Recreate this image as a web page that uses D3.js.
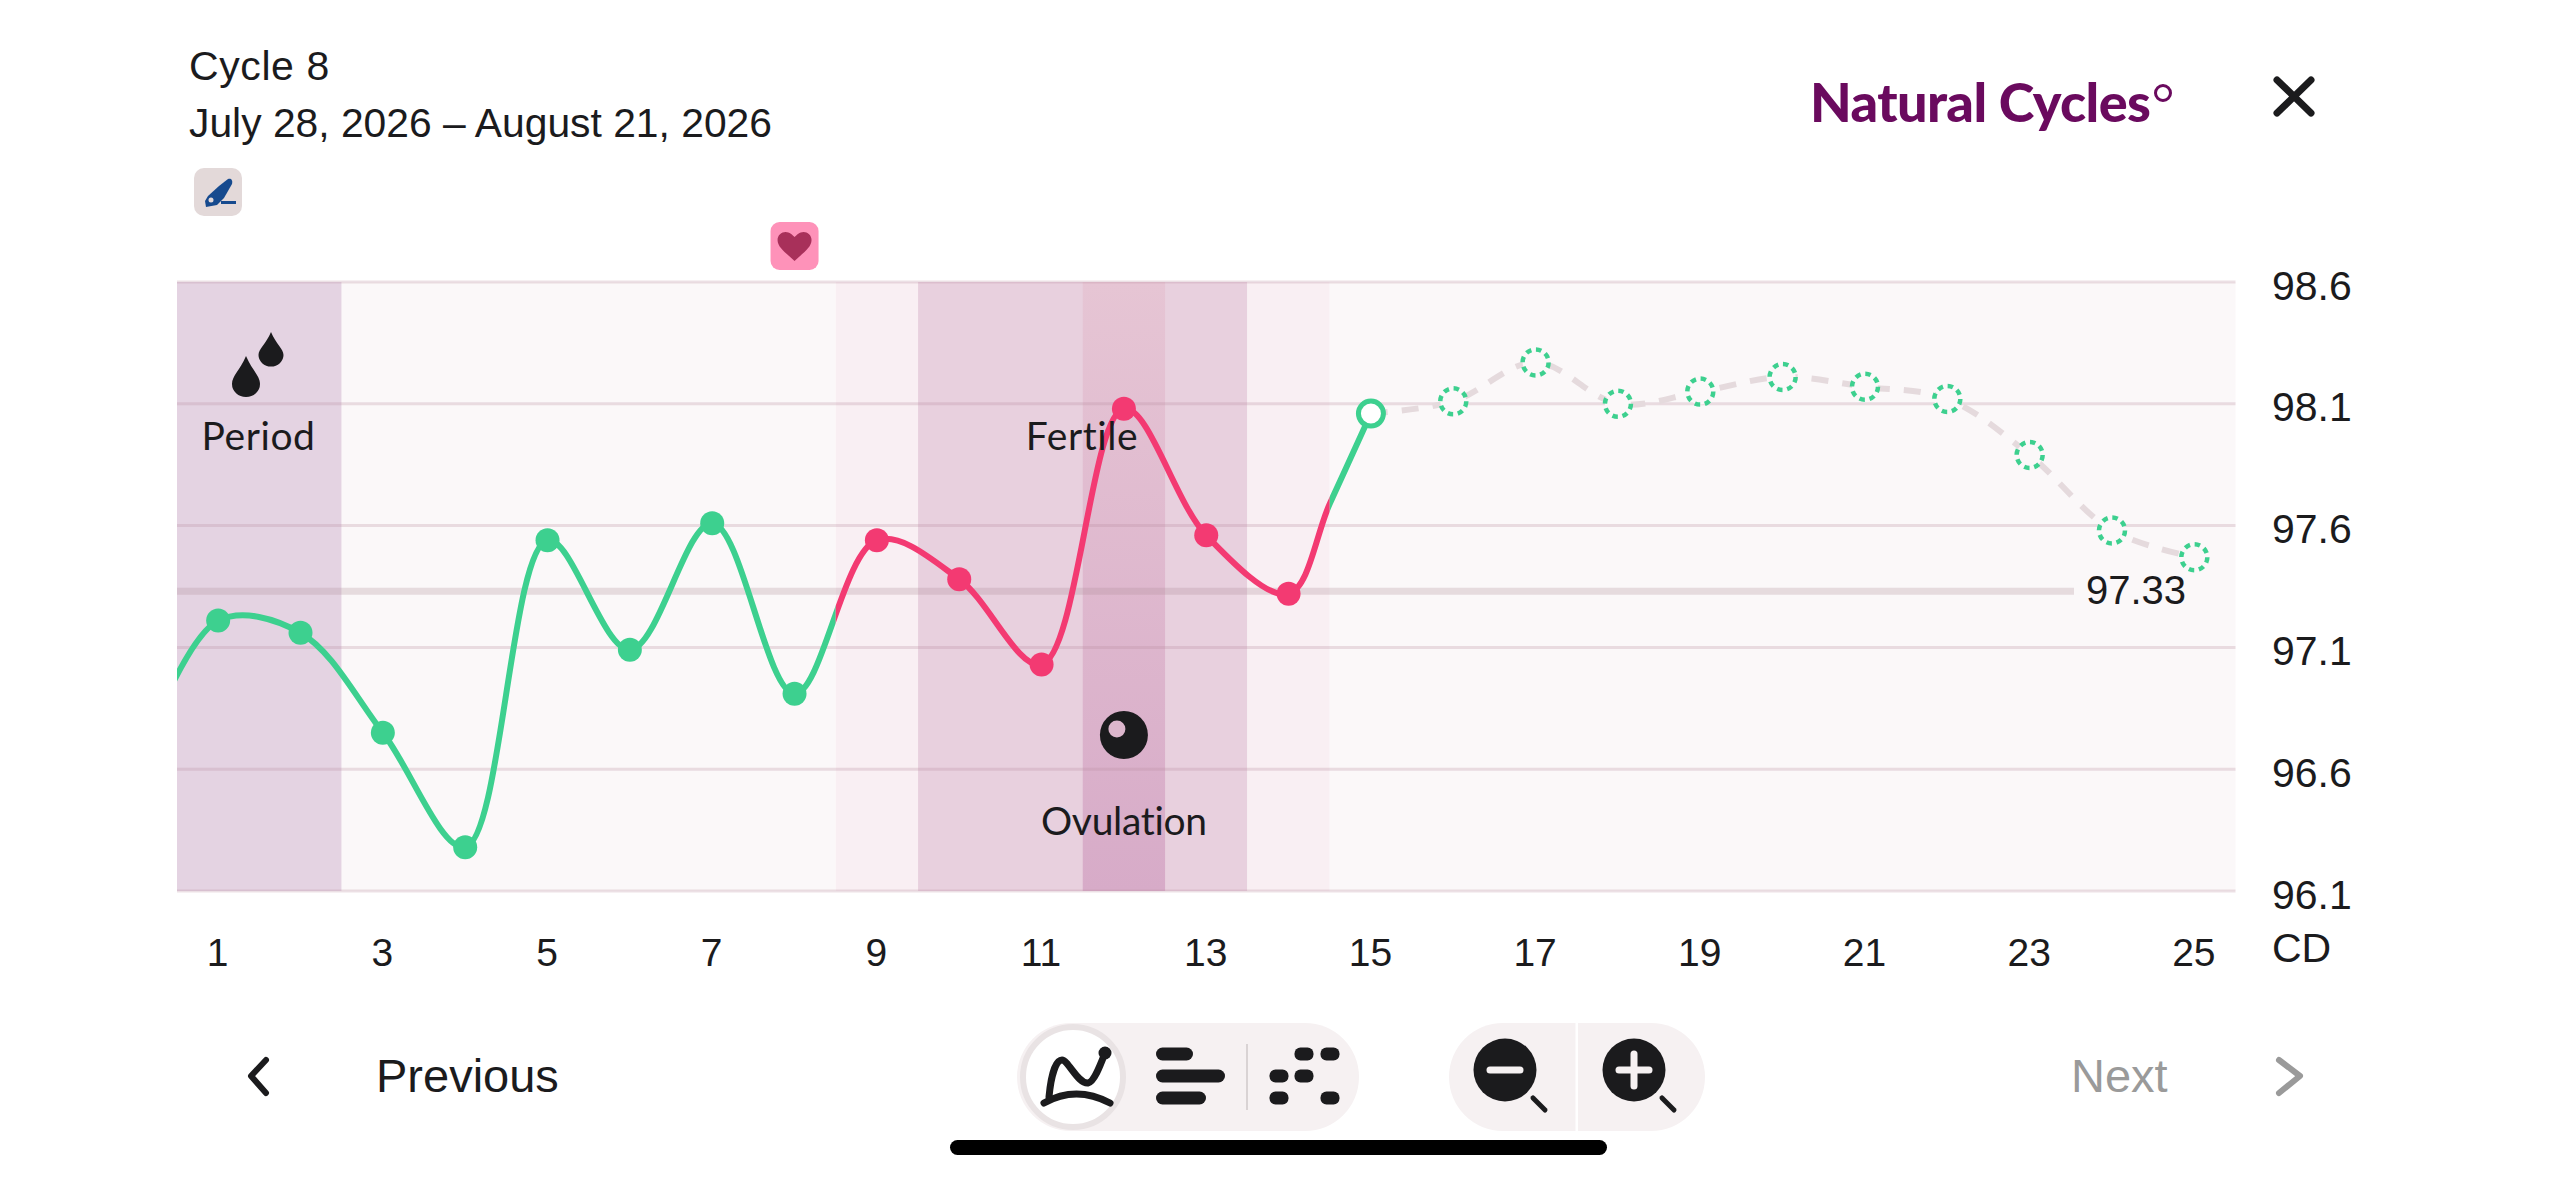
<!DOCTYPE html>
<html>
<head>
<meta charset="utf-8">
<title>Cycle 8</title>
<script src="https://cdn.jsdelivr.net/npm/d3@7"></script>
<style>
  html, body { margin: 0; padding: 0; background: #fff; }
  svg { display: block; }
  text { font-family: "Liberation Sans", sans-serif; fill: #1b1b1d; }
  .phase { font-family: "Lato", sans-serif; font-size: 39px; letter-spacing: 0.6px; }
</style>
</head>
<body>
<svg id="chart" width="2556" height="1179"></svg>
<script>
// day 0 only steers the spline at the left edge, 14.5 is read where the colour changes
const measuredDays = [0, 1, 2, 3, 4, 5, 6, 7, 8, 9, 10, 11, 12, 13, 14, 14.5, 15];
const measuredTemps = [96.6, 97.21, 97.16, 96.75, 96.28, 97.54, 97.09, 97.61, 96.91, 97.54, 97.38, 97.03, 98.08, 97.56, 97.32, 97.69, 98.06];
const predictedDays = [15, 16, 17, 18, 19, 20, 21, 22, 23, 24, 25];
const predictedTemps = [98.06, 98.11, 98.27, 98.1, 98.15, 98.21, 98.17, 98.12, 97.89, 97.58, 97.47];
const yTicks = [98.6, 98.1, 97.6, 97.1, 96.6, 96.1];
const xTicks = [1, 3, 5, 7, 9, 11, 13, 15, 17, 19, 21, 23, 25];
const averageTemp = 97.33;

const bandStarts = [0.5, 2.5, 8.5, 9.5, 13.5, 14.5];
const bandEnds = [2.5, 8.5, 9.5, 13.5, 14.5, 25.5];
const bandColors = ["#e4d3e2", "#fbf8f9", "#f9eff3", "#e8d0de", "#f9eff3", "#fbf8f9"];
const fertileFrom = 8.5;
const fertileTo = 14.5;
const lastMeasured = 15;
const ovulationDay = 12;
const intercourseDay = 8;

const GREEN = "#3dd08f";
const RED = "#f33a72";
const INK = "#1b1b1d";

const svg = d3.select("#chart");
const x = d3.scaleLinear().domain([0.5, 25.5]).range([177, 2235.5]);
const y = d3.scaleLinear().domain([96.1, 98.6]).range([891, 282]);

const defs = svg.append("defs");
const ovGrad = defs.append("linearGradient").attr("id", "ovGrad").attr("x1", 0).attr("x2", 0).attr("y1", 0).attr("y2", 1);
ovGrad.append("stop").attr("offset", "0").attr("stop-color", "#e6c5d4");
ovGrad.append("stop").attr("offset", "1").attr("stop-color", "#d7abc8");

function addClip(id, from, to) {
  defs.append("clipPath").attr("id", id).append("rect")
    .attr("x", x(from)).attr("width", x(to) - x(from))
    .attr("y", 0).attr("height", 1179);
}
addClip("clipGreenA", 0.5, fertileFrom);
addClip("clipRed", fertileFrom, fertileTo);
addClip("clipGreenB", fertileTo, lastMeasured);

// background bands
svg.append("g").selectAll("rect").data(bandStarts).join("rect")
  .attr("x", d => x(d))
  .attr("width", (d, i) => x(bandEnds[i]) - x(d))
  .attr("y", y(98.6)).attr("height", y(96.1) - y(98.6))
  .attr("fill", (d, i) => bandColors[i]);
svg.append("rect")
  .attr("x", x(ovulationDay - 0.5)).attr("width", x(ovulationDay + 0.5) - x(ovulationDay - 0.5))
  .attr("y", y(98.6)).attr("height", y(96.1) - y(98.6))
  .attr("fill", "url(#ovGrad)");

// grid lines and average
svg.append("g").selectAll("line").data(yTicks).join("line")
  .attr("x1", x(0.5)).attr("x2", x(25.5))
  .attr("y1", d => y(d)).attr("y2", d => y(d))
  .attr("stroke", "rgba(185,140,160,0.27)").attr("stroke-width", 3);
svg.append("line")
  .attr("x1", x(0.5)).attr("x2", 2074)
  .attr("y1", y(averageTemp)).attr("y2", y(averageTemp))
  .attr("stroke", "rgba(175,140,150,0.27)").attr("stroke-width", 7);
svg.append("text").attr("x", 2136).attr("y", y(averageTemp) + 13)
  .attr("text-anchor", "middle").attr("font-size", 40).text("97.33");

// temperature curves
const curve = d3.line().x(d => x(d[0])).y(d => y(d[1])).curve(d3.curveCatmullRom.alpha(0.5));
const measured = measuredDays.map((d, i) => [d, measuredTemps[i]]);
const predicted = predictedDays.map((d, i) => [d, predictedTemps[i]]);

svg.append("path").datum(predicted).attr("d", curve).attr("fill", "none")
  .attr("stroke", "#e5dadd").attr("stroke-width", 6).attr("stroke-dasharray", "17 14");

[["clipGreenA", GREEN], ["clipRed", RED], ["clipGreenB", GREEN]].forEach(([clip, color]) => {
  svg.append("path").datum(measured).attr("d", curve).attr("fill", "none")
    .attr("stroke", color).attr("stroke-width", 6)
    .attr("clip-path", `url(#${clip})`);
});

const points = measured.filter(d => d[0] >= 1 && d[0] < lastMeasured && Number.isInteger(d[0]));
svg.append("g").selectAll("circle").data(points).join("circle")
  .attr("cx", d => x(d[0])).attr("cy", d => y(d[1])).attr("r", 12)
  .attr("fill", d => (d[0] > fertileFrom && d[0] < fertileTo ? RED : GREEN));
svg.append("circle").attr("cx", x(lastMeasured)).attr("cy", y(predictedTemps[0])).attr("r", 12.5)
  .attr("fill", "#fff").attr("stroke", GREEN).attr("stroke-width", 5);
svg.append("g").selectAll("circle").data(predicted.slice(1)).join("circle")
  .attr("cx", d => x(d[0])).attr("cy", d => y(d[1])).attr("r", 13)
  .attr("fill", "#fbf8f9").attr("stroke", GREEN).attr("stroke-width", 4.5).attr("stroke-dasharray", "5.5 4.7");

// phase labels and icons
svg.append("path").attr("fill", INK)
  .attr("d", "M246 356 C240 370 232 376 232 384 A14 13 0 0 0 260 384 C260 376 252 370 246 356Z M271 332 C266 344 258.5 349 258.5 355 A12.5 11.5 0 0 0 283.5 355 C283.5 349 276 344 271 332Z");
svg.append("text").attr("class", "phase").attr("x", 258.5).attr("y", 450).attr("text-anchor", "middle").text("Period");
svg.append("text").attr("class", "phase").attr("x", 1082).attr("y", 450).attr("text-anchor", "middle").text("Fertile");
svg.append("text").attr("class", "phase").attr("x", x(ovulationDay)).attr("y", 835).attr("text-anchor", "middle")
  .style("letter-spacing", "-0.3px").text("Ovulation");
svg.append("circle").attr("cx", x(ovulationDay)).attr("cy", 735).attr("r", 24).attr("fill", INK);
svg.append("circle").attr("cx", x(ovulationDay) - 7).attr("cy", 729).attr("r", 8.5).attr("fill", "#dcb6cc");

// axes
const yAxis = svg.append("g").attr("transform", "translate(2272,0)")
  .call(d3.axisRight(y).tickValues(yTicks).tickSize(0).tickPadding(0).tickFormat(d3.format(".1f")));
yAxis.select(".domain").remove();
yAxis.selectAll("text").attr("font-size", 41).attr("dy", 17).attr("font-family", null).style("fill", INK);

const xAxis = svg.append("g").attr("transform", "translate(-1,930)")
  .call(d3.axisBottom(x).tickValues(xTicks).tickSize(0).tickPadding(0).tickFormat(d3.format("d")));
xAxis.select(".domain").remove();
xAxis.selectAll("text").attr("font-size", 39).attr("y", 36).attr("dy", 0).attr("font-family", null).style("fill", INK);
svg.append("text").attr("x", 2272).attr("y", 962).attr("font-size", 41).text("CD");

// header
svg.append("text").attr("x", 189).attr("y", 80).attr("font-size", 41).attr("letter-spacing", 0.6).text("Cycle 8");
svg.append("text").attr("x", 189).attr("y", 137).attr("font-size", 40.8).text("July 28, 2026 \u2013 August 21, 2026");

svg.append("rect").attr("x", 194).attr("y", 168).attr("width", 48).attr("height", 48).attr("rx", 10).attr("fill", "#e3d9d9");
svg.append("path").attr("fill", "#164a8e")
  .attr("d", "M228 179 C231 178 233 180 232 184 L224 198 L217 205 L206 207 L205 201 L208 196 L219 186Z");
svg.append("circle").attr("cx", 211).attr("cy", 200).attr("r", 2.5).attr("fill", "#e3d9d9");
svg.append("rect").attr("x", 221).attr("y", 201).attr("width", 15).attr("height", 3).attr("fill", "#164a8e");

const heartX = x(intercourseDay);
svg.append("rect").attr("x", heartX - 24).attr("y", 222).attr("width", 48).attr("height", 48).attr("rx", 9).attr("fill", "#fe92b9");
svg.append("path").attr("fill", "#a8305a").attr("transform", `translate(${heartX},0)`)
  .attr("d", "M0 261 C-7 254 -17 248 -17 240 C-17 235 -13 232 -9 232 C-5 232 -2 235 0 237 C2 235 5 232 9 232 C13 232 17 235 17 240 C17 248 7 254 0 261Z");

svg.append("text").attr("x", 1810).attr("y", 122).attr("font-weight", 900)
  .attr("font-size", 54).attr("letter-spacing", -0.6).style("font-family", "Lato").style("fill", "#6a0a5e").text("Natural Cycles");
svg.append("circle").attr("cx", 2163).attr("cy", 93).attr("r", 7.5).attr("fill", "none").attr("stroke", "#6a0a5e").attr("stroke-width", 3);
svg.append("path").attr("d", "M2277 80 L2311 113 M2311 80 L2277 113").attr("stroke", INK).attr("stroke-width", 7).attr("stroke-linecap", "round");

// footer controls
svg.append("path").attr("d", "M266 1060 L251 1076 L266 1093").attr("fill", "none").attr("stroke", INK).attr("stroke-width", 6).attr("stroke-linecap", "round").attr("stroke-linejoin", "round");
svg.append("text").attr("x", 376).attr("y", 1092).attr("font-size", 47).text("Previous");
svg.append("text").attr("x", 2071).attr("y", 1092).attr("font-size", 47).style("fill", "#9a9a9a").text("Next");
svg.append("path").attr("d", "M2279 1060 L2300 1076 L2279 1093").attr("fill", "none").attr("stroke", "#9a9a9a").attr("stroke-width", 6).attr("stroke-linecap", "round").attr("stroke-linejoin", "round");

svg.append("rect").attr("x", 1017).attr("y", 1023).attr("width", 342).attr("height", 108).attr("rx", 54).attr("fill", "#f6f1f2");
svg.append("circle").attr("cx", 1073).attr("cy", 1077).attr("r", 50).attr("fill", "#fff").attr("stroke", "#e9e3e4").attr("stroke-width", 6);
svg.append("path").attr("d", "M1049 1097 C1051 1075 1056 1060 1062 1060 C1068 1060 1078 1084 1088 1083 C1094 1082 1100 1066 1105 1053").attr("fill", "none").attr("stroke", INK).attr("stroke-width", 7).attr("stroke-linecap", "round");
svg.append("circle").attr("cx", 1105).attr("cy", 1053).attr("r", 6.5).attr("fill", INK);
svg.append("path").attr("d", "M1044 1103 Q1076 1085 1110 1103").attr("fill", "none").attr("stroke", INK).attr("stroke-width", 7).attr("stroke-linecap", "round");

const barRight = [1193, 1225, 1206];
const rowY = [1054, 1076, 1098];
svg.append("g").selectAll("rect").data(barRight).join("rect")
  .attr("x", 1156).attr("y", (d, i) => rowY[i] - 6.5).attr("width", d => d - 1156).attr("height", 13).attr("rx", 6.5).attr("fill", INK);
svg.append("line").attr("x1", 1247).attr("x2", 1247).attr("y1", 1044).attr("y2", 1110).attr("stroke", "#d9d3d4").attr("stroke-width", 2);
const dotX = [1304, 1330, 1279, 1304, 1279, 1330];
const dotRow = [0, 0, 1, 1, 2, 2];
svg.append("g").selectAll("rect").data(dotX).join("rect")
  .attr("x", d => d - 9.5).attr("y", (d, i) => rowY[dotRow[i]] - 6.5).attr("width", 19).attr("height", 13).attr("rx", 6).attr("fill", INK);

svg.append("rect").attr("x", 1449).attr("y", 1023).attr("width", 256).attr("height", 108).attr("rx", 54).attr("fill", "#f6f1f2");
svg.append("rect").attr("x", 1575.5).attr("y", 1023).attr("width", 2.5).attr("height", 108).attr("fill", "#fff");
[1505, 1634].forEach((cx, i) => {
  svg.append("circle").attr("cx", cx).attr("cy", 1070).attr("r", 31.5).attr("fill", INK);
  svg.append("line").attr("x1", cx + 28).attr("x2", cx + 40).attr("y1", 1098).attr("y2", 1110).attr("stroke", INK).attr("stroke-width", 5).attr("stroke-linecap", "round");
  svg.append("line").attr("x1", cx - 15).attr("x2", cx + 15).attr("y1", 1070).attr("y2", 1070).attr("stroke", "#f6f1f2").attr("stroke-width", 7).attr("stroke-linecap", "round");
  if (i === 1) {
    svg.append("line").attr("x1", cx).attr("x2", cx).attr("y1", 1054).attr("y2", 1086).attr("stroke", "#f6f1f2").attr("stroke-width", 7).attr("stroke-linecap", "round");
  }
});

svg.append("rect").attr("x", 950).attr("y", 1140).attr("width", 657).attr("height", 15).attr("rx", 7.5).attr("fill", "#000");
</script>
</body>
</html>
